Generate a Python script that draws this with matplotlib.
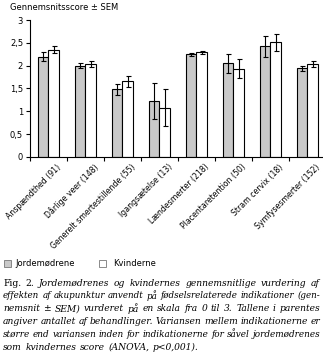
import numpy as np
import matplotlib.pyplot as plt

categories = ["Anspændthed (91)", "Dårlige veer (148)", "Generelt smertestillende (55)",
              "Igangsætelse (13)", "Lændesmerter (218)", "Placentaretention (50)",
              "Stram cervix (18)", "Symfysesmerter (152)"]
midwives = [2.20, 2.00, 1.48, 1.23, 2.25, 2.05, 2.42, 1.94]
midwives_sem = [0.10, 0.05, 0.12, 0.40, 0.03, 0.21, 0.24, 0.06]
women = [2.35, 2.03, 1.66, 1.08, 2.29, 1.93, 2.51, 2.03]
women_sem = [0.08, 0.07, 0.12, 0.40, 0.04, 0.21, 0.18, 0.07]
yticks = [0, 0.5, 1, 1.5, 2, 2.5, 3]
ytick_labels = ["0", "0,5", "1", "1,5", "2", "2,5", "3"]

caption = [
    [("Fig. 2.", "normal"), ("Jordemødrenes og kvindernes gennemsnitlige vurdering af", "italic")],
    [("effekten af akupunktur anvendt på fødselsrelaterede indikationer (gen-", "italic")],
    [("nemsnit ± SEM) vurderet på en skala fra 0 til 3. Tallene i parentes", "italic")],
    [("angiver antallet af behandlinger. Variansen mellem indikationerne er", "italic")],
    [("større end variansen inden for indikationerne for såvel jordemødrenes", "italic")],
    [("som kvindernes score (ANOVA, p<0,001).", "italic")],
]

W, H = 323, 362
fig = plt.figure(figsize=(W / 100, H / 100), dpi=100)
ax = fig.add_axes([30 / W, 1 - 157 / H, 293 / W, 137 / H])

x = np.arange(len(categories))
bw = 0.29
ax.bar(x - bw / 2, midwives, bw, color="#c9c9c9", edgecolor="black", linewidth=0.8,
       yerr=midwives_sem, error_kw=dict(ecolor="black", elinewidth=0.8, capsize=1.8, capthick=0.8))
ax.bar(x + bw / 2, women, bw, color="white", edgecolor="black", linewidth=0.8,
       yerr=women_sem, error_kw=dict(ecolor="black", elinewidth=0.8, capsize=1.8, capthick=0.8))

ax.set_xlim(-0.5, 7.42)
ax.set_ylim(0, 3)
for s in ("top", "right"):
    ax.spines[s].set_visible(False)
ax.spines["left"].set_linewidth(0.8)
ax.spines["bottom"].set_linewidth(0.8)

ax.set_yticks(yticks)
ax.set_yticklabels(ytick_labels, fontsize=6)
ax.tick_params(axis="y", length=3, width=0.8, pad=2)

# boundary ticks between groups, labels sit slightly right of centre
ax.set_xticks(x - 0.5, minor=True)
ax.tick_params(axis="x", which="minor", length=3, width=0.8)
ax.set_xticks(x + 0.22)
ax.set_xticklabels(categories, rotation=45, ha="right", va="top",
                   rotation_mode="anchor", fontsize=5.6)
ax.tick_params(axis="x", which="major", length=0, pad=4)

fig.text(10 / W, 1 - 7 / H, "Gennemsnitsscore ± SEM", fontsize=6, va="center", ha="left")

# legend
fig.patches.append(plt.Rectangle((4 / W, 1 - 267 / H), 7 / W, 7 / H, transform=fig.transFigure,
                                 facecolor="#c9c9c9", edgecolor="#777777", linewidth=0.6))
fig.text(15 / W, 1 - 263 / H, "Jordemødrene", fontsize=6, va="center")
fig.patches.append(plt.Rectangle((99 / W, 1 - 267 / H), 7 / W, 7 / H, transform=fig.transFigure,
                                 facecolor="white", edgecolor="#777777", linewidth=0.6))
fig.text(113 / W, 1 - 263 / H, "Kvinderne", fontsize=6, va="center")

# justified caption, shrinking a line slightly if it would not fit
renderer = fig.canvas.get_renderer()
left, right = 3, 320
y0, dy = 283, 12.8
min_gap = 2.8
for i, line in enumerate(caption):
    words = []
    for chunk, style in line:
        words += [(w, style) for w in chunk.split(" ")]
    texts = []
    for w, style in words:
        t = fig.text(0, 1 - (y0 + i * dy) / H, w, fontsize=6.6, family="DejaVu Serif",
                     style=style, va="center", ha="left")
        texts.append(t)
    widths = [t.get_window_extent(renderer).width for t in texts]
    avail = right - left - min_gap * (len(texts) - 1)
    if sum(widths) > avail:
        scale = avail / sum(widths)
        for t in texts:
            t.set_fontsize(6.6 * scale)
        widths = [t.get_window_extent(renderer).width for t in texts]
    last = i == len(caption) - 1
    gap = 3.5 if last else (right - left - sum(widths)) / (len(texts) - 1)
    pos = left
    for t, wd in zip(texts, widths):
        t.set_x(pos / W)
        pos += wd + gap

fig.savefig("out.png", dpi=100)
